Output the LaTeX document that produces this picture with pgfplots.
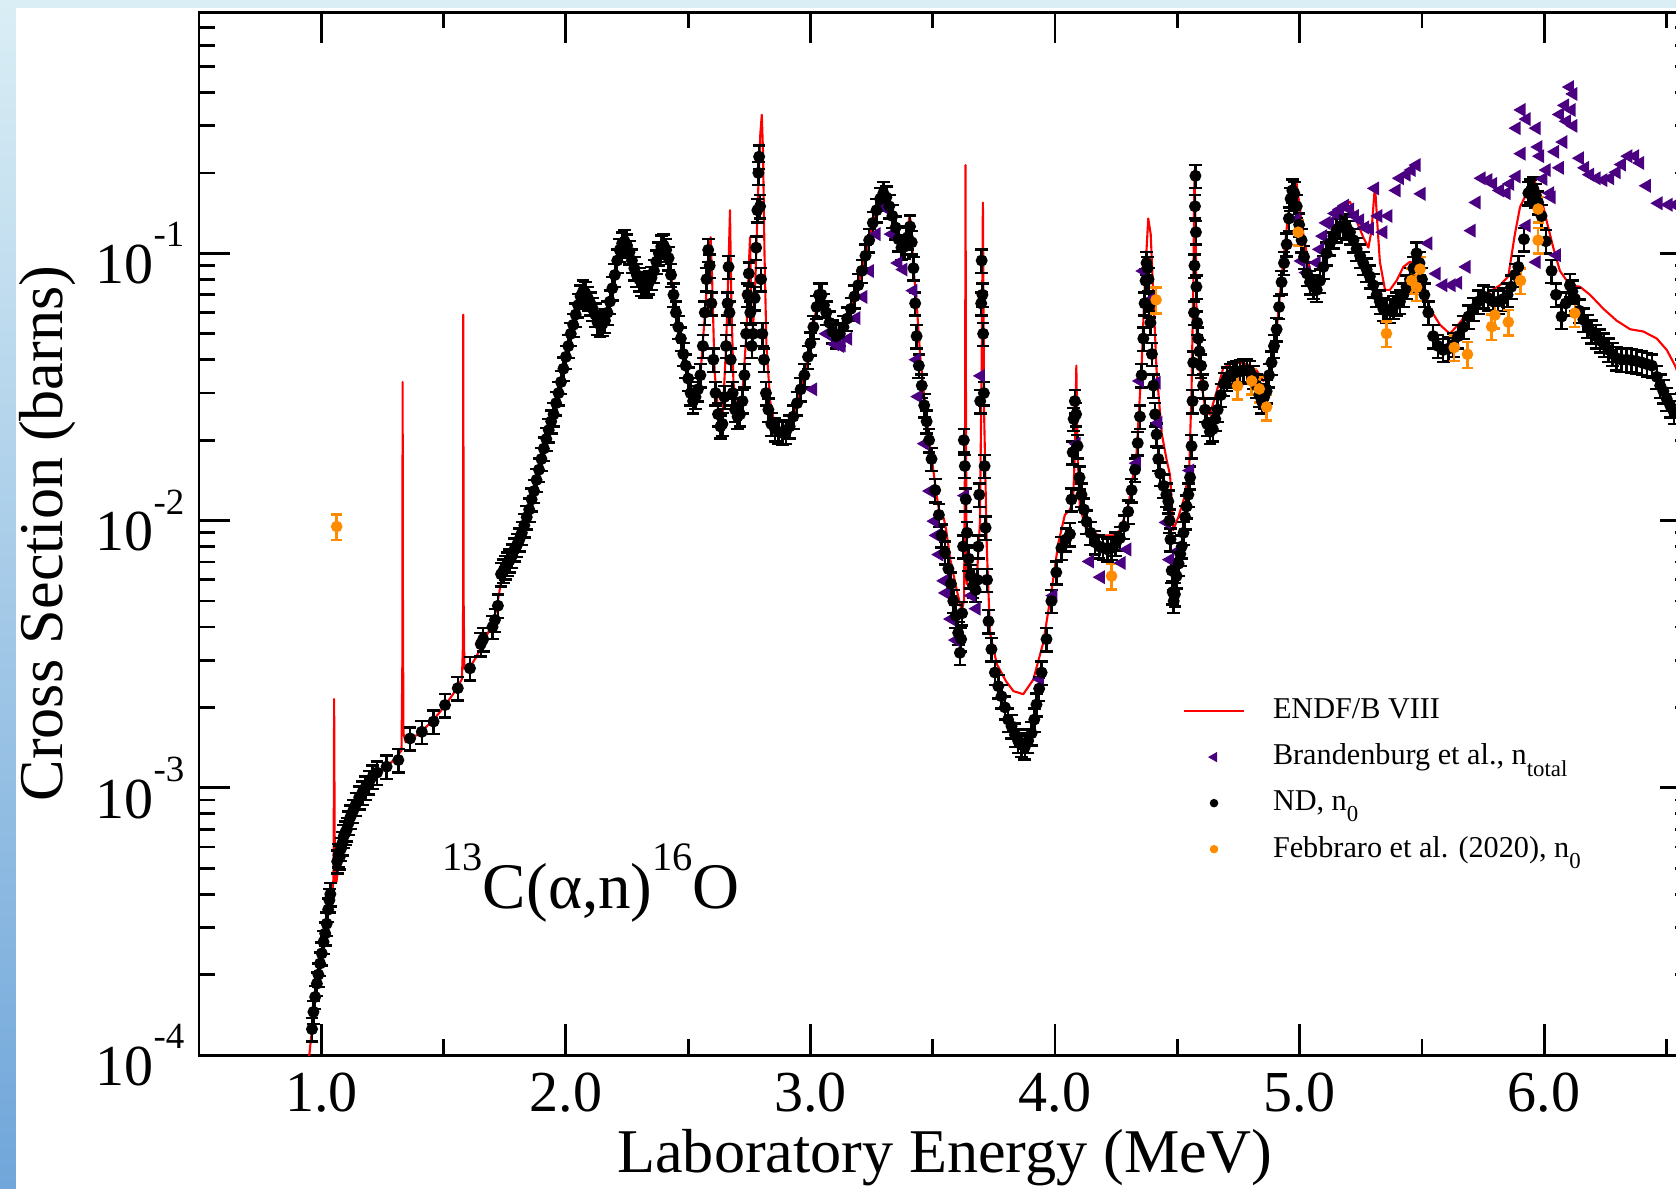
\documentclass[border=0pt]{standalone}
\usepackage{fontspec}
\setmainfont{Liberation Serif}
\usepackage{pgfplots}
\pgfplotsset{compat=1.18}
\usetikzlibrary{calc}
\pgfdeclarelayer{background}
\pgfsetlayers{background,main}

\definecolor{endfred}{RGB}{255,0,0}
\definecolor{brandpurple}{RGB}{75,0,130}
\definecolor{febborange}{RGB}{255,140,0}
\definecolor{slidetop}{RGB}{218,238,245}
\definecolor{slidebot}{RGB}{112,166,218}

% power-of-ten tick label with a text-style exponent
\newcommand{\decade}[1]{10\raisebox{10.5pt}{\fontsize{10.5}{10.5}\selectfont #1}}
\newcommand{\iso}[1]{\raisebox{11pt}{\fontsize{11.5}{12}\selectfont #1}}
\newcommand{\lowsub}[1]{\raisebox{-3.2pt}{\fontsize{6.5}{7}\selectfont #1}}

\begin{document}
\begin{tikzpicture}
\begin{axis}[
  scale only axis,
  width=149.2mm, height=104.3mm,
  xmin=0.5, xmax=6.6,
  ymode=log, ymin=1e-4, ymax=0.8,
  axis line style={line width=0.85pt},
  every tick/.style={black, line width=0.8pt},
  major tick length=3.1mm, minor tick length=1.6mm,
  xtick={1,2,3,4,5,6},
  xticklabels={1.0,2.0,3.0,4.0,5.0,6.0},
  minor xtick={0.5,1.5,2.5,3.5,4.5,5.5,6.5},
  ytick={1e-4,1e-3,1e-2,1e-1},
  yticklabels={\decade{-4},\decade{-3},\decade{-2},\decade{-1}},
  minor ytick={2e-4,3e-4,4e-4,5e-4,6e-4,7e-4,8e-4,9e-4,
               2e-3,3e-3,4e-3,5e-3,6e-3,7e-3,8e-3,9e-3,
               2e-2,3e-2,4e-2,5e-2,6e-2,7e-2,8e-2,9e-2,
               0.2,0.3,0.4,0.5,0.6,0.7},
  tick label style={font=\fontsize{16.5}{18}\selectfont},
  xticklabel style={inner sep=0pt, anchor=north, yshift=-1.7mm},
  yticklabel style={inner sep=0pt, anchor=east, xshift=-1.4mm},
  xlabel={Laboratory Energy (MeV)},
  ylabel={Cross Section (barns)},
  every axis x label/.style={at={(axis description cs:0.5,-0.1131)}, anchor=base,
    font=\fontsize{17.7}{20}\selectfont},
  every axis y label/.style={at={(axis description cs:-0.0918,0.5)}, anchor=base,
    rotate=90, font=\fontsize{17.7}{20}\selectfont},
  legend cell align=left,
  legend style={draw=none, fill=none, at={(0.6595,0.350)}, anchor=north west,
    inner sep=0pt, outer sep=0pt, font=\fontsize{8.6}{10}\selectfont,
    nodes={inner sep=2.4pt}, row sep=1pt,
    /tikz/every odd column/.append style={column sep=1.95mm}},
]
\coordinate (O) at (rel axis cs:0,0);

\addlegendimage{endfred, line width=0.6pt}
\addlegendentry{ENDF/B VIII}
\addlegendimage{only marks, mark=triangle*, mark size=1.3pt, color=brandpurple, mark options={rotate=90}}
\addlegendentry{Brandenburg et al., n\lowsub{total}}
\addlegendimage{only marks, mark=*, mark size=1.0pt, color=black}
\addlegendentry{ND, n\lowsub{0}}
\addlegendimage{only marks, mark=*, mark size=1.0pt, color=febborange}
\addlegendentry{Febbraro et al. (2020), n\lowsub{0}}

% ENDF/B-VIII evaluation
\addplot[endfred, line width=0.6pt, line join=round, forget plot] table {
0.940 8.0e-5
0.960 1.2e-4
0.975 1.6e-4
0.990 2.05e-4
1.005 2.5e-4
1.020 3.0e-4
1.035 3.7e-4
1.046 4.1e-4
1.050 4.6e-4
1.0515 1.0e-3
1.0525 2.15e-3
1.0535 1.2e-3
1.055 6.0e-4
1.058 4.4e-4
1.062 4.45e-4
1.068 4.9e-4
1.080 5.7e-4
1.100 6.6e-4
1.130 7.9e-4
1.160 9.1e-4
1.200 1.04e-3
1.250 1.16e-3
1.300 1.28e-3
1.328 1.38e-3
1.3315 3.0e-3
1.3325 3.3e-2
1.334 4.0e-3
1.336 1.6e-3
1.345 1.48e-3
1.380 1.55e-3
1.420 1.66e-3
1.460 1.8e-3
1.500 2.0e-3
1.540 2.25e-3
1.575 2.55e-3
1.5795 3.5e-3
1.5805 5.9e-2
1.582 5.0e-3
1.585 2.8e-3
1.600 2.75e-3
1.630 3.05e-3
1.660 3.45e-3
1.690 3.95e-3
1.715 4.6e-3
1.728 5.4e-3
1.738 6.2e-3
1.750 6.45e-3
1.770 6.95e-3
1.800 8.1e-3
1.830 9.6e-3
1.860 1.2e-2
1.890 1.55e-2
1.920 2.02e-2
1.950 2.5e-2
1.980 3.3e-2
2.010 4.5e-2
2.040 5.9e-2
2.070 7.2e-2
2.090 6.8e-2
2.120 5.9e-2
2.150 5.45e-2
2.180 6.6e-2
2.210 9.4e-2
2.240 1.11e-1
2.270 9.4e-2
2.300 8.0e-2
2.320 7.55e-2
2.350 8.1e-2
2.380 1.0e-1
2.400 1.07e-1
2.420 9.6e-2
2.450 6.0e-2
2.480 4.2e-2
2.510 3.0e-2
2.530 2.9e-2
2.550 3.5e-2
2.570 6.2e-2
2.585 1.0e-1
2.592 1.15e-1
2.598 8.0e-2
2.608 3.6e-2
2.625 2.45e-2
2.640 2.35e-2
2.655 4.5e-2
2.665 9.0e-2
2.671 1.45e-1
2.676 7.0e-2
2.685 3.3e-2
2.700 2.45e-2
2.720 2.8e-2
2.738 5.0e-2
2.748 9.0e-2
2.753 1.15e-1
2.758 6.5e-2
2.765 5.2e-2
2.775 8.0e-2
2.785 1.6e-1
2.795 2.8e-1
2.801 3.3e-1
2.806 2.4e-1
2.812 1.0e-1
2.820 4.5e-2
2.835 2.8e-2
2.855 2.25e-2
2.885 2.15e-2
2.915 2.25e-2
2.945 2.75e-2
2.975 3.5e-2
3.000 4.6e-2
3.025 6.3e-2
3.040 7.1e-2
3.055 6.5e-2
3.080 5.5e-2
3.105 5.0e-2
3.135 5.3e-2
3.165 6.2e-2
3.195 7.6e-2
3.225 9.8e-2
3.255 1.3e-1
3.285 1.6e-1
3.300 1.68e-1
3.320 1.52e-1
3.345 1.28e-1
3.370 1.07e-1
3.390 1.15e-1
3.405 1.37e-1
3.412 1.3e-1
3.420 9.0e-2
3.434 6.55e-2
3.448 4.2e-2
3.465 2.9e-2
3.482 2.12e-2
3.500 1.6e-2
3.516 1.24e-2
3.530 1.03e-2
3.545 1.02e-2
3.555 9.2e-3
3.571 7.2e-3
3.598 5.5e-3
3.618 4.6e-3
3.628 5.0e-3
3.632 2.0e-2
3.634 2.14e-1
3.636 2.0e-2
3.639 5.8e-3
3.659 5.6e-3
3.679 5.8e-3
3.693 9.9e-3
3.700 4.0e-2
3.705 1.55e-1
3.710 2.5e-2
3.721 7.9e-3
3.734 3.8e-3
3.762 2.9e-3
3.800 2.5e-3
3.830 2.3e-3
3.870 2.24e-3
3.911 2.54e-3
3.952 3.5e-3
3.986 5.5e-3
4.013 8.2e-3
4.040 1.05e-2
4.061 1.1e-2
4.074 1.2e-2
4.081 1.8e-2
4.087 3.8e-2
4.092 1.8e-2
4.101 1.13e-2
4.128 9.2e-3
4.183 8.8e-3
4.237 8.8e-3
4.265 9.2e-3
4.299 1.13e-2
4.333 1.78e-2
4.354 3.8e-2
4.368 8.2e-2
4.381 1.35e-1
4.391 1.18e-1
4.402 6.9e-2
4.415 3.65e-2
4.436 2.12e-2
4.456 1.69e-2
4.470 1.48e-2
4.477 1.18e-2
4.483 9.2e-3
4.504 1.03e-2
4.531 1.24e-2
4.549 1.62e-2
4.558 3.05e-2
4.565 7.5e-2
4.570 2.05e-1
4.575 1.2e-1
4.579 5.2e-2
4.593 3.5e-2
4.613 2.66e-2
4.633 2.49e-2
4.661 3.05e-2
4.688 3.73e-2
4.729 3.91e-2
4.784 3.86e-2
4.824 3.65e-2
4.852 3.33e-2
4.879 3.6e-2
4.906 5.2e-2
4.933 9.4e-2
4.954 1.42e-1
4.985 1.9e-1
5.015 1.18e-1
5.035 9.3e-2
5.056 7.6e-2
5.090 7.7e-2
5.117 1.0e-1
5.151 1.32e-1
5.186 1.52e-1
5.206 1.56e-1
5.233 1.32e-1
5.260 1.15e-1
5.281 1.05e-1
5.294 1.22e-1
5.308 1.8e-1
5.317 1.32e-1
5.328 9.3e-2
5.349 7.3e-2
5.369 7.3e-2
5.396 7.9e-2
5.424 8.9e-2
5.451 9.3e-2
5.478 9.1e-2
5.505 7.6e-2
5.533 6.2e-2
5.574 5.4e-2
5.614 5.0e-2
5.655 5.5e-2
5.696 6.2e-2
5.737 6.9e-2
5.778 7.2e-2
5.819 7.6e-2
5.853 8.2e-2
5.880 1.18e-1
5.901 1.49e-1
5.928 1.68e-1
5.955 1.91e-1
5.983 1.68e-1
6.010 1.32e-1
6.037 1.05e-1
6.064 8.6e-2
6.105 7.6e-2
6.146 7.5e-2
6.187 7.0e-2
6.242 6.2e-2
6.296 5.6e-2
6.351 5.2e-2
6.405 5.1e-2
6.460 4.8e-2
6.501 4.35e-2
6.535 3.8e-2
6.560 3.3e-2
6.600 2.8e-2
};

% Brandenburg et al., total neutron yield
\addplot[only marks, mark=triangle*, mark size=1.9pt, color=brandpurple,
  mark options={rotate=90}, forget plot] table {
3.011 0.031
3.066 0.050
3.100 0.0457
3.107 0.0476
3.121 0.045
3.127 0.0453
3.154 0.0479
3.188 0.0573
3.216 0.0687
3.243 0.0859
3.270 0.118
3.304 0.148
3.332 0.118
3.359 0.092
3.380 0.087
3.421 0.0725
3.434 0.040
3.441 0.0291
3.468 0.0194
3.489 0.0129
3.507 0.00995
3.516 0.0088
3.527 0.00746
3.547 0.00595
3.554 0.00536
3.575 0.00428
3.595 0.00357
3.632 0.0124
3.659 0.00524
3.679 0.00468
3.697 0.0348
3.938 0.00255
3.993 0.00524
4.088 0.0194
4.142 0.00703
4.187 0.00614
4.272 0.00694
4.295 0.0078
4.334 0.0164
4.347 0.0333
4.361 0.0859
4.391 0.0671
4.415 0.0328
4.422 0.0232
4.456 0.00984
4.470 0.00714
4.511 0.00778
4.552 0.0154
4.987 0.134
5.008 0.0936
5.028 0.0847
5.069 0.0923
5.083 0.1035
5.096 0.116
5.110 0.130
5.124 0.130
5.145 0.141
5.165 0.146
5.186 0.151
5.206 0.146
5.226 0.138
5.247 0.133
5.267 0.125
5.287 0.1236
5.308 0.175
5.322 0.138
5.342 0.120
5.363 0.138
5.396 0.172
5.410 0.191
5.437 0.197
5.458 0.205
5.478 0.214
5.498 0.167
5.526 0.109
5.560 0.0839
5.587 0.076
5.621 0.076
5.648 0.0776
5.682 0.089
5.703 0.1216
5.723 0.155
5.744 0.191
5.771 0.188
5.791 0.182
5.819 0.172
5.846 0.168
5.860 0.182
5.887 0.194
5.907 0.236
5.887 0.294
5.907 0.344
5.928 0.318
5.928 0.127
5.969 0.294
5.969 0.0927
5.976 0.250
5.983 0.231
5.996 0.190
6.010 0.205
6.024 0.168
6.030 0.162
6.044 0.240
6.051 0.0984
6.064 0.209
6.078 0.261
6.064 0.331
6.085 0.358
6.092 0.312
6.105 0.419
6.112 0.344
6.119 0.300
6.119 0.395
6.146 0.227
6.167 0.209
6.187 0.197
6.214 0.191
6.242 0.188
6.269 0.191
6.296 0.201
6.317 0.215
6.344 0.231
6.371 0.231
6.392 0.218
6.419 0.179
6.467 0.154
6.508 0.152
6.535 0.152
};

% ND measurement, ground-state neutrons
\addplot[only marks, mark=*, mark size=1.5pt, color=black, forget plot,
  error bars/.cd, y dir=both, y fixed relative=0.1,
  error bar style={line width=0.7pt, black},
  error mark options={rotate=90, mark size=1.8pt, line width=0.7pt, black}] table {
0.962 1.25e-4
0.968 1.45e-4
0.975 1.65e-4
0.982 1.85e-4
0.988 2.0e-4
0.995 2.2e-4
1.002 2.4e-4
1.009 2.65e-4
1.016 2.85e-4
1.022 3.1e-4
1.028 3.5e-4
1.033 3.8e-4
1.037 4.0e-4
1.065 5.3e-4
1.070 5.6e-4
1.075 5.5e-4
1.080 5.9e-4
1.086 6.2e-4
1.092 6.6e-4
1.098 6.8e-4
1.105 7.0e-4
1.112 7.4e-4
1.120 7.8e-4
1.130 8.2e-4
1.142 8.7e-4
1.155 9.2e-4
1.168 9.6e-4
1.180 1.0e-3
1.195 1.05e-3
1.210 1.1e-3
1.228 1.14e-3
1.267 1.2e-3
1.315 1.27e-3
1.363 1.53e-3
1.411 1.62e-3
1.459 1.77e-3
1.506 2.04e-3
1.558 2.36e-3
1.608 2.8e-3
1.652 3.45e-3
1.662 3.6e-3
1.700 4.0e-3
1.710 4.25e-3
1.722 4.8e-3
1.735 6.3e-3
1.745 6.5e-3
1.752 6.7e-3
1.760 6.9e-3
1.770 7.1e-3
1.780 7.4e-3
1.790 7.8e-3
1.800 8.1e-3
1.810 8.5e-3
1.820 9.0e-3
1.830 9.6e-3
1.840 1.03e-2
1.850 1.1e-2
1.860 1.2e-2
1.870 1.29e-2
1.880 1.42e-2
1.890 1.55e-2
1.900 1.70e-2
1.910 1.86e-2
1.920 2.02e-2
1.930 2.18e-2
1.940 2.35e-2
1.950 2.5e-2
1.960 2.75e-2
1.970 3.0e-2
1.980 3.3e-2
1.990 3.7e-2
2.000 4.1e-2
2.010 4.5e-2
2.020 5.0e-2
2.030 5.4e-2
2.040 5.9e-2
2.050 6.4e-2
2.060 6.9e-2
2.070 7.2e-2
2.080 7.1e-2
2.090 6.8e-2
2.100 6.5e-2
2.110 6.2e-2
2.120 5.9e-2
2.130 5.5e-2
2.140 5.4e-2
2.150 5.45e-2
2.160 5.6e-2
2.170 6.0e-2
2.180 6.6e-2
2.190 7.4e-2
2.200 8.3e-2
2.210 9.4e-2
2.220 1.03e-1
2.230 1.09e-1
2.240 1.11e-1
2.250 1.07e-1
2.260 1.01e-1
2.270 9.4e-2
2.280 8.8e-2
2.290 8.3e-2
2.300 8.0e-2
2.310 7.7e-2
2.320 7.55e-2
2.330 7.6e-2
2.340 7.8e-2
2.350 8.1e-2
2.360 8.6e-2
2.370 9.3e-2
2.380 1.0e-1
2.390 1.06e-1
2.400 1.07e-1
2.410 1.03e-1
2.420 9.6e-2
2.430 8.3e-2
2.440 7.0e-2
2.450 6.0e-2
2.460 5.3e-2
2.470 4.8e-2
2.480 4.2e-2
2.490 3.8e-2
2.500 3.4e-2
2.510 3.0e-2
2.520 2.8e-2
2.530 2.9e-2
2.540 3.1e-2
2.550 3.5e-2
2.560 4.5e-2
2.568 6.0e-2
2.575 8.0e-2
2.582 1.03e-1
2.588 9.0e-2
2.595 6.5e-2
2.603 4.0e-2
2.612 3.0e-2
2.622 2.5e-2
2.632 2.25e-2
2.640 2.3e-2
2.648 2.9e-2
2.655 4.5e-2
2.661 6.5e-2
2.665 8.9e-2
2.669 6.0e-2
2.674 4.0e-2
2.682 3.0e-2
2.692 2.6e-2
2.702 2.45e-2
2.712 2.5e-2
2.722 2.8e-2
2.730 3.5e-2
2.737 5.0e-2
2.743 7.0e-2
2.748 8.4e-2
2.754 6.0e-2
2.760 4.5e-2
2.766 5.0e-2
2.772 6.8e-2
2.778 1.05e-1
2.783 1.45e-1
2.787 2.0e-1
2.790 2.3e-1
2.794 1.5e-1
2.798 8.0e-2
2.803 5.0e-2
2.810 4.0e-2
2.818 3.0e-2
2.828 2.6e-2
2.840 2.3e-2
2.855 2.2e-2
2.870 2.15e-2
2.885 2.13e-2
2.900 2.15e-2
2.915 2.25e-2
2.930 2.45e-2
2.945 2.75e-2
2.960 3.1e-2
2.975 3.5e-2
2.990 4.1e-2
3.000 4.6e-2
3.012 5.3e-2
3.025 6.3e-2
3.035 7.0e-2
3.045 7.0e-2
3.055 6.4e-2
3.065 6.0e-2
3.078 5.5e-2
3.090 5.1e-2
3.105 4.9e-2
3.120 5.0e-2
3.135 5.3e-2
3.150 5.7e-2
3.165 6.2e-2
3.180 6.9e-2
3.195 7.6e-2
3.210 8.6e-2
3.225 9.8e-2
3.240 1.12e-1
3.255 1.3e-1
3.270 1.45e-1
3.285 1.6e-1
3.298 1.68e-1
3.310 1.62e-1
3.322 1.5e-1
3.335 1.38e-1
3.348 1.25e-1
3.360 1.13e-1
3.372 1.05e-1
3.385 1.06e-1
3.398 1.15e-1
3.407 1.26e-1
3.414 1.10e-1
3.421 8.8e-2
3.428 6.5e-2
3.434 4.9e-2
3.443 3.8e-2
3.455 3.2e-2
3.465 2.7e-2
3.475 2.35e-2
3.485 2.0e-2
3.495 1.7e-2
3.510 1.3e-2
3.525 1.05e-2
3.536 8.8e-3
3.550 7.6e-3
3.564 6.6e-3
3.574 5.8e-3
3.584 5.0e-3
3.594 4.4e-3
3.604 3.8e-3
3.611 3.2e-3
3.616 3.6e-3
3.620 4.5e-3
3.624 8.0e-3
3.627 2.0e-2
3.631 1.6e-2
3.635 1.2e-2
3.640 9.0e-3
3.647 7.2e-3
3.655 6.2e-3
3.665 5.7e-3
3.675 5.5e-3
3.682 6.0e-3
3.686 8.0e-3
3.690 1.25e-2
3.694 2.8e-2
3.698 6.5e-2
3.700 9.4e-2
3.703 7.0e-2
3.706 5.0e-2
3.709 3.0e-2
3.712 1.6e-2
3.716 9.4e-3
3.722 6.0e-3
3.728 4.2e-3
3.740 3.3e-3
3.754 2.7e-3
3.768 2.4e-3
3.781 2.2e-3
3.795 2.0e-3
3.808 1.8e-3
3.822 1.7e-3
3.836 1.58e-3
3.849 1.5e-3
3.862 1.45e-3
3.876 1.42e-3
3.890 1.5e-3
3.904 1.6e-3
3.915 1.8e-3
3.924 2.05e-3
3.935 2.35e-3
3.945 2.7e-3
3.965 3.6e-3
3.985 5.0e-3
4.005 6.4e-3
4.026 7.9e-3
4.045 8.5e-3
4.061 8.9e-3
4.067 1.2e-2
4.072 1.8e-2
4.076 2.4e-2
4.081 2.8e-2
4.086 2.5e-2
4.092 1.9e-2
4.100 1.45e-2
4.108 1.25e-2
4.118 1.1e-2
4.129 9.9e-3
4.145 9.0e-3
4.163 8.3e-3
4.180 8.0e-3
4.197 7.9e-3
4.214 7.8e-3
4.231 7.9e-3
4.248 8.2e-3
4.265 8.6e-3
4.282 9.5e-3
4.299 1.08e-2
4.313 1.3e-2
4.327 1.55e-2
4.338 1.95e-2
4.347 2.45e-2
4.354 3.5e-2
4.361 4.8e-2
4.366 6.5e-2
4.370 7.9e-2
4.374 9.2e-2
4.378 8.8e-2
4.382 8.0e-2
4.386 6.4e-2
4.390 5.5e-2
4.396 4.2e-2
4.402 3.2e-2
4.409 2.5e-2
4.415 2.1e-2
4.422 1.7e-2
4.430 1.5e-2
4.443 1.35e-2
4.455 1.25e-2
4.463 1.18e-2
4.468 1.0e-2
4.472 8.5e-3
4.477 6.5e-3
4.481 5.4e-3
4.485 5.0e-3
4.490 5.3e-3
4.497 6.2e-3
4.505 6.9e-3
4.512 7.5e-3
4.518 8.0e-3
4.525 9.0e-3
4.532 1.03e-2
4.538 1.13e-2
4.545 1.25e-2
4.552 1.45e-2
4.558 1.9e-2
4.562 2.8e-2
4.565 3.9e-2
4.568 6.0e-2
4.570 9.0e-2
4.572 1.5e-1
4.574 1.95e-1
4.576 1.2e-1
4.578 7.5e-2
4.581 5.5e-2
4.585 4.8e-2
4.590 4.3e-2
4.597 3.8e-2
4.605 3.2e-2
4.613 2.6e-2
4.622 2.3e-2
4.633 2.15e-2
4.645 2.2e-2
4.655 2.4e-2
4.665 2.6e-2
4.678 2.95e-2
4.690 3.25e-2
4.703 3.4e-2
4.716 3.5e-2
4.729 3.57e-2
4.742 3.6e-2
4.756 3.62e-2
4.770 3.65e-2
4.784 3.65e-2
4.797 3.6e-2
4.810 3.45e-2
4.824 3.2e-2
4.835 2.95e-2
4.845 2.8e-2
4.855 2.9e-2
4.865 3.05e-2
4.875 3.5e-2
4.885 3.9e-2
4.895 4.5e-2
4.906 5.2e-2
4.916 6.3e-2
4.926 7.8e-2
4.936 9.2e-2
4.947 1.08e-1
4.956 1.35e-1
4.963 1.6e-1
4.970 1.72e-1
4.978 1.68e-1
4.988 1.5e-1
4.998 1.28e-1
5.008 1.12e-1
5.018 9.7e-2
5.030 8.4e-2
5.042 7.8e-2
5.056 7.5e-2
5.070 7.3e-2
5.083 7.9e-2
5.097 8.9e-2
5.110 1.0e-1
5.124 1.09e-1
5.138 1.16e-1
5.151 1.22e-1
5.165 1.26e-1
5.179 1.27e-1
5.192 1.25e-1
5.206 1.2e-1
5.220 1.12e-1
5.233 1.04e-1
5.247 9.8e-2
5.260 9.2e-2
5.274 8.7e-2
5.287 8.2e-2
5.301 7.6e-2
5.315 7.0e-2
5.328 6.6e-2
5.342 6.2e-2
5.355 6.1e-2
5.369 6.1e-2
5.383 6.3e-2
5.396 6.5e-2
5.410 6.6e-2
5.424 7.0e-2
5.437 7.5e-2
5.451 8.0e-2
5.465 8.8e-2
5.478 1.0e-1
5.490 9.2e-2
5.500 8.0e-2
5.510 7.0e-2
5.526 6.0e-2
5.546 4.9e-2
5.566 4.5e-2
5.587 4.35e-2
5.608 4.4e-2
5.628 4.55e-2
5.648 4.9e-2
5.669 5.3e-2
5.690 5.8e-2
5.710 6.2e-2
5.730 6.6e-2
5.751 6.9e-2
5.771 6.8e-2
5.792 6.6e-2
5.812 6.6e-2
5.833 6.75e-2
5.850 7.0e-2
5.865 7.5e-2
5.880 8.3e-2
5.894 8.9e-2
5.917 1.13e-1
5.935 1.68e-1
5.945 1.72e-1
5.955 1.75e-1
5.965 1.65e-1
5.975 1.55e-1
5.989 1.38e-1
6.007 1.11e-1
6.030 8.6e-2
6.048 7.0e-2
6.071 5.8e-2
6.088 6.5e-2
6.105 7.6e-2
6.115 7.2e-2
6.126 6.75e-2
6.143 6.1e-2
6.160 5.65e-2
6.177 5.35e-2
6.194 5.1e-2
6.211 4.9e-2
6.228 4.72e-2
6.245 4.55e-2
6.262 4.36e-2
6.279 4.2e-2
6.296 4.05e-2
6.316 4.0e-2
6.337 4.0e-2
6.357 3.98e-2
6.378 3.95e-2
6.400 3.9e-2
6.420 3.85e-2
6.440 3.8e-2
6.460 3.45e-2
6.474 3.2e-2
6.487 3.05e-2
6.501 2.85e-2
6.515 2.7e-2
6.530 2.55e-2
};

% Febbraro et al. (2020), ground-state neutrons
\addplot[only marks, mark=*, mark size=1.45pt, color=febborange, forget plot,
  error bars/.cd, y dir=both, y fixed relative=0.11,
  error bar style={line width=0.7pt, febborange},
  error mark options={rotate=90, mark size=1.6pt, line width=0.7pt, febborange}] table {
1.063 0.0095
4.231 0.0062
4.413 0.067
4.746 0.0319
4.804 0.0333
4.835 0.0311
4.865 0.0266
4.994 0.120
5.355 0.0501
5.458 0.0791
5.478 0.0746
5.492 0.0873
5.632 0.0444
5.686 0.0419
5.785 0.0532
5.798 0.0587
5.853 0.0553
5.903 0.0791
5.975 0.1465
5.975 0.112
6.125 0.0597
};

\node[anchor=base west, inner sep=0pt, font=\fontsize{18.5}{20}\selectfont]
  at (axis cs:1.493,3.52e-4) {\iso{13}C(α,n)\iso{16}O};
\end{axis}

\begin{pgfonlayer}{background}
  \shade[top color=slidetop, bottom color=slidebot]
    ($(O)+(-19.9mm,-13.4mm)$) rectangle ($(O)+(147.7mm,105.5mm)$);
  \fill[white] ($(O)+(-18.3mm,-13.4mm)$) rectangle ($(O)+(147.7mm,104.7mm)$);
\end{pgfonlayer}

\pgfresetboundingbox
\path[use as bounding box] ($(O)+(-19.9mm,-13.4mm)$) rectangle ($(O)+(147.7mm,105.5mm)$);
\end{tikzpicture}
\end{document}
